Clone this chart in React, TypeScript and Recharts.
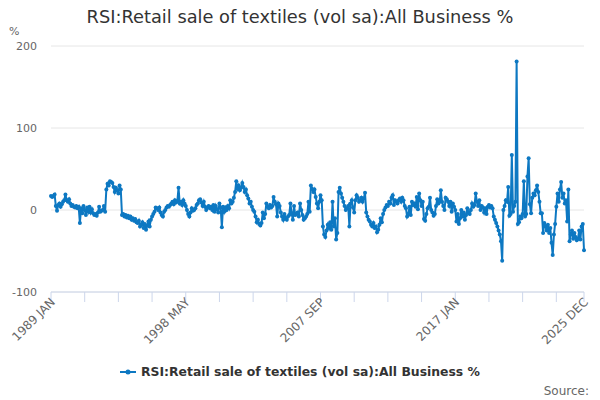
import { LineChart, Line, XAxis, YAxis, CartesianGrid } from "recharts";

const MONTHS = ["JAN", "FEB", "MAR", "APR", "MAY", "JUN", "JUL", "AUG", "SEP", "OCT", "NOV", "DEC"];

// monthly % values, one array per year
const v1989 = [17, 16, 17, 19, 5, -1, 6, 8, 4, 7, 10, 12];
const v1990 = [19, 12, 10, 13, 8, 5, 6, 4, 3, 5, 2, 4];
const v1991 = [-16, 2, -4, 5, 0, -6, 3, -2, 4, -3, 1, -4];
const v1992 = [-6, -5, -7, -3, 4, -2, -1, 0, 5, -2, 25, 32];
const v1993 = [30, 35, 34, 33, 28, 22, 27, 24, 20, 30, 25, -6];
const v1994 = [-5, -8, -6, -9, -7, -10, -8, -12, -10, -13, -11, -15];
const v1995 = [-16, -13, -20, -18, -15, -22, -17, -24, -19, -14, -20, -12];
const v1996 = [-8, -5, -2, 3, 2, 0, 3, -3, -6, -8, -2, 0];
const v1997 = [3, 5, 4, 6, 8, 10, 7, 12, 9, 11, 27, 8];
const v1998 = [10, 6, 12, 8, 5, 0, -5, -8, -3, 2, -1, 0];
const v1999 = [2, 6, 8, 12, 13, 9, 5, 10, 4, 0, 3, 5];
const v2000 = [2, 4, 0, 6, -2, 5, 1, -3, 8, 3, -21, 4];
const v2001 = [-2, 3, 0, 5, 2, 12, 8, 10, 15, 22, 35, 26];
const v2002 = [30, 24, 27, 33, 28, 22, 25, 18, 14, 8, 10, 4];
const v2003 = [0, -2, -8, -15, -12, -17, -19, -16, -3, -10, -5, 8];
const v2004 = [4, 2, 6, 3, 5, 16, 10, 7, -8, 8, 5, -3];
const v2005 = [-8, -12, -5, -10, -12, -8, -6, 8, -4, -12, 5, -6];
const v2006 = [-5, -3, -8, 8, 0, -6, -12, -10, -8, -5, 10, -2];
const v2007 = [30, 26, 22, 25, 16, 8, 2, 10, 18, 12, -20, -30];
const v2008 = [-33, -25, -18, -22, -15, -24, 10, -20, -10, -36, -28, 22];
const v2009 = [27, 20, 15, 10, 5, 0, 2, 5, -20, 8, 12, 3];
const v2010 = [-3, 12, 18, 15, 10, 12, 15, 10, 14, 21, -3, -8];
const v2011 = [-12, -14, -18, -20, -16, -22, -20, -27, -24, -18, -10, -15];
const v2012 = [-5, 0, 3, 6, 5, 10, 8, 15, 18, 6, 12, 10];
const v2013 = [8, 12, 14, 10, 15, 12, 5, 2, -8, -5, 4, -6];
const v2014 = [10, 6, 8, 4, 16, 1, 20, 12, 5, 10, -11, -13];
const v2015 = [-5, 2, 4, 15, 0, -3, -7, -5, 5, 13, 8, 10];
const v2016 = [24, 10, 5, 0, 15, 13, 10, 5, 10, -2, 8, 4];
const v2017 = [0, -14, -5, -17, -10, 0, -8, -3, -12, -6, 2, -3];
const v2018 = [-5, 0, 8, 4, 6, 20, 10, 5, 12, 0, 5, 3];
const v2019 = [-3, 2, -5, 4, 6, 3, 5, 2, -8, -12, -16, -20];
const v2020 = [-25, -30, -38, -62, 0, 5, 12, 10, 28, -7, -5, 67];
const v2021 = [-2, 5, 10, 181, -17, -15, -8, -10, -5, 35, -8, -5];
const v2022 = [41, 63, 7, -4, 15, 20, 18, 24, 30, 22, 10, -4];
const v2023 = [-4, -28, -16, -20, -25, -18, -28, -22, -40, -55, -30, -17];
const v2024 = [4, 20, 10, 25, 34, 15, 20, 8, 12, -14, 25, -38];
const v2025 = [-30, -25, -35, -28, -33, -37, -35, -25, -36, -20, -17, -49];

const yearValues = [
  v1989, v1990, v1991, v1992, v1993, v1994, v1995, v1996, v1997, v1998,
  v1999, v2000, v2001, v2002, v2003, v2004, v2005, v2006, v2007, v2008,
  v2009, v2010, v2011, v2012, v2013, v2014, v2015, v2016, v2017, v2018,
  v2019, v2020, v2021, v2022, v2023, v2024, v2025,
];
const FIRST_YEAR = 1989;

const tickLabels = ["1989 JAN", "1998 MAY", "2007 SEP", "2017 JAN", "2025 DEC"];
const yTicks = [-100, 0, 100, 200];

const SERIES = "RSI:Retail sale of textiles (vol sa):All Business %";
const BLUE = "#0d78c2";
const FONT = "'DejaVu Sans', sans-serif";

const data = yearValues.flatMap((vals, yi) =>
  vals.map((v, m) => ({ label: `${FIRST_YEAR + yi} ${MONTHS[m]}`, value: v }))
);

// tick marks every 28 months plus the last month
const xTicks = data.filter((_, i) => i % 28 === 0).map((d) => d.label);
xTicks.push(data[data.length - 1].label);

function XTick({ x, y, payload }: any) {
  if (!tickLabels.includes(payload.value)) return null;
  const tx = x + 2;
  const ty = y - 2;
  return (
    <text
      x={tx}
      y={ty}
      transform={`rotate(-45, ${tx}, ${ty})`}
      textAnchor="end"
      dominantBaseline="central"
      fontSize={12}
      fill="#666666"
      fontFamily={FONT}
    >
      {payload.value}
    </text>
  );
}

function YTick({ y, payload }: any) {
  return (
    <text x={37} y={y} textAnchor="end" dominantBaseline="central" fontSize={11} fill="#666666" fontFamily={FONT}>
      {payload.value}
    </text>
  );
}

export default function App() {
  return (
    <div style={{ position: "absolute", left: 0, top: 0, width: 600, height: 400, background: "#fff", fontFamily: FONT }}>
      <div style={{ position: "absolute", top: 6, left: 0, width: 600, textAlign: "center", fontSize: 17.8, color: "#333333" }}>
        {SERIES}
      </div>
      <div style={{ position: "absolute", top: 25, left: 9, fontSize: 11, color: "#666666" }}>%</div>
      <LineChart width={600} height={400} data={data} margin={{ top: 46, right: 16, bottom: 78, left: 0 }}>
        <CartesianGrid vertical={false} stroke="#e6e6e6" />
        <XAxis
          dataKey="label"
          ticks={xTicks}
          interval={0}
          height={30}
          tick={<XTick />}
          tickSize={10}
          tickMargin={0}
          axisLine={{ stroke: "#ccd6eb" }}
          tickLine={{ stroke: "#ccd6eb" }}
        />
        <YAxis
          width={51}
          domain={[-100, 200]}
          ticks={yTicks}
          axisLine={false}
          tickLine={false}
          tick={<YTick />}
        />
        <Line
          type="linear"
          dataKey="value"
          stroke={BLUE}
          strokeWidth={2}
          dot={{ r: 2, fill: BLUE, stroke: BLUE, strokeWidth: 0 }}
          isAnimationActive={false}
        />
      </LineChart>
      <div style={{ position: "absolute", top: 364, left: 0, width: 600, display: "flex", justifyContent: "center", alignItems: "center" }}>
        <svg width={16} height={12} style={{ marginRight: 5 }}>
          <line x1={0} y1={6} x2={16} y2={6} stroke={BLUE} strokeWidth={2} />
          <circle cx={8} cy={6} r={2.5} fill={BLUE} />
        </svg>
        <span style={{ fontSize: 12.4, fontWeight: "bold", color: "#333333" }}>{SERIES}</span>
      </div>
      <div style={{ position: "absolute", top: 384, right: 11, fontSize: 12, color: "#666666" }}>Source:</div>
    </div>
  );
}
